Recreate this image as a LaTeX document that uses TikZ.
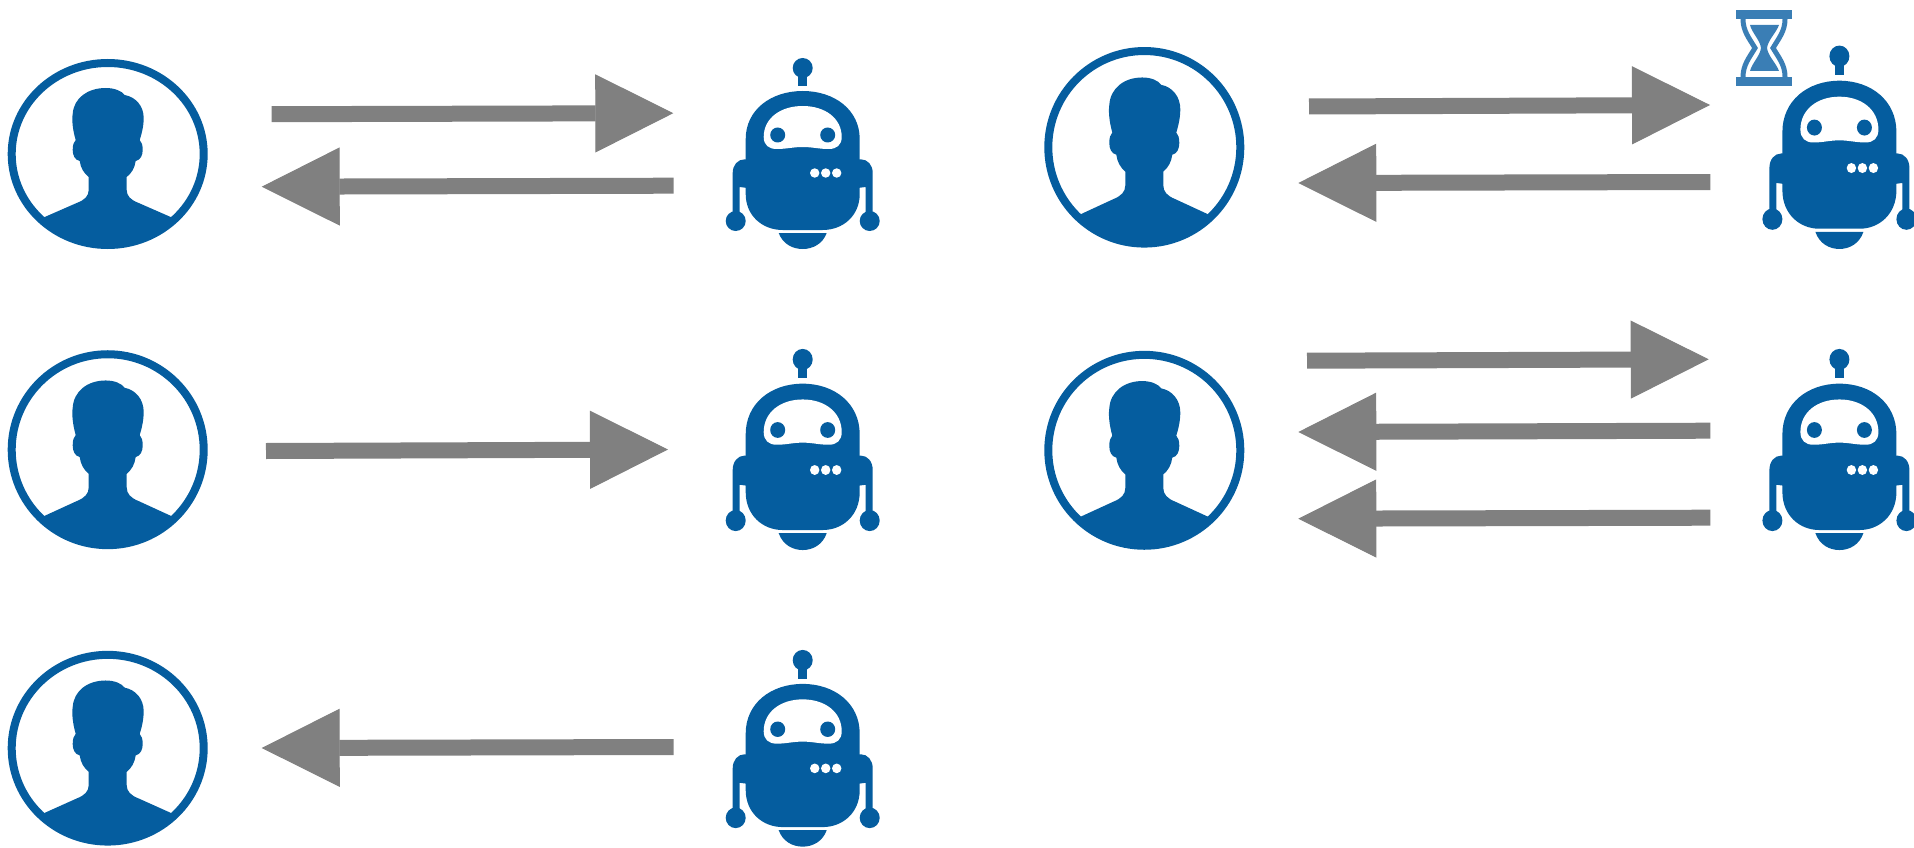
\documentclass[tikz,border=0pt]{standalone}
\usetikzlibrary{arrows.meta}
\definecolor{iconblue}{HTML}{055D9F}
\definecolor{glassblue}{HTML}{3A7EB5}
\definecolor{arrowgray}{HTML}{808080}
\tikzset{
  bigarrow/.style={draw=arrowgray,line width=16pt,-{Triangle[length=78pt,width=78pt,line width=1pt,fill=arrowgray]}},
  person/.pic={
    \begin{scope}
      \clip (0,0) ellipse [x radius=97,y radius=92];
      \fill[iconblue] (-75,72) -- (-63,63) -- (-31,49)
        .. controls (-23,46) and (-19,42) .. (-19,36) -- (-19,23)
        .. controls (-24,19) and (-27,14) .. (-28,7)
        .. controls (-33,6) and (-35,1) .. (-35,-4)
        .. controls (-35,-9) and (-34,-12) .. (-32,-14)
        .. controls (-35,-24) and (-36,-34) .. (-35,-40)
        .. controls (-34,-56) and (-20,-66) .. (-2,-66)
        .. controls (7,-66) and (14,-63) .. (17,-59)
        .. controls (28,-57) and (36,-48) .. (36,-36)
        .. controls (36,-28) and (34,-20) .. (32,-14)
        .. controls (34,-12) and (35,-9) .. (35,-4)
        .. controls (35,1) and (33,6) .. (28,7)
        .. controls (27,14) and (24,19) .. (19,23) -- (19,36)
        .. controls (19,42) and (23,46) .. (31,49)
        -- (63,63) -- (75,72) -- (75,110) -- (-75,110) -- cycle;
    \end{scope}
    \draw[iconblue,line width=8pt] (0,0) ellipse [x radius=96,y radius=91];
  },
  robot/.pic={
    \fill[iconblue] (0,-86) circle [radius=10];
    \fill[iconblue] (-4.7,-86) rectangle (4.7,-68);
    \fill[iconblue] (-57,-15) .. controls (-57,-44) and (-32,-63) .. (0,-63)
      .. controls (32,-63) and (57,-44) .. (57,-15) -- (57,40)
      .. controls (57,62) and (40,76) .. (20,76) -- (-20,76)
      .. controls (-40,76) and (-57,62) .. (-57,40) -- cycle;
    \fill[iconblue] (-55,5.3) -- (-58,5.3) .. controls (-65,5.3) and (-70,11) .. (-70,19) -- (-70,62) -- (-63,62) -- (-63,33) -- (-55,34) -- cycle;
    \fill[iconblue] (55,5.3) -- (58,5.3) .. controls (65,5.3) and (70,11) .. (70,19) -- (70,62) -- (63,62) -- (63,33) -- (55,34) -- cycle;
    \fill[iconblue] (-67,67) circle [radius=10];
    \fill[iconblue] (67,67) circle [radius=10];
    \fill[iconblue] (-24,79) -- (24,79) .. controls (20,90) and (10,95) .. (0,95) .. controls (-10,95) and (-20,90) .. (-24,79) -- cycle;
    \fill[white] (-39,-17) .. controls (-39,-36) and (-22,-48) .. (0,-48)
      .. controls (22,-48) and (39,-36) .. (39,-17)
      .. controls (39,-9) and (34,-5) .. (26,-5)
      .. controls (16,-5) and (10,-7) .. (0,-7)
      .. controls (-10,-7) and (-16,-5) .. (-26,-5)
      .. controls (-34,-5) and (-39,-9) .. (-39,-17) -- cycle;
    \fill[iconblue] (-25,-19) circle [radius=7.5];
    \fill[iconblue] (25,-19) circle [radius=7.5];
    \fill[white] (12,19) circle [radius=4.7];
    \fill[white] (23,19) circle [radius=4.7];
    \fill[white] (34,19) circle [radius=4.7];
  },
  hourglass/.pic={
    \fill[glassblue] (-28,-38) rectangle (28,-29);
    \fill[glassblue] (-28,29) rectangle (28,38);
    \draw[glassblue,line width=5pt] (-21,-29) .. controls (-21,-17) and (-15,-10) .. (-9,0) .. controls (-15,10) and (-21,17) .. (-21,29);
    \draw[glassblue,line width=5pt] (21,-29) .. controls (21,-17) and (15,-10) .. (9,0) .. controls (15,10) and (21,17) .. (21,29);
    \fill[glassblue] (-14,-23) -- (15,-23) .. controls (12,-15) and (4,-8) .. (3,0) .. controls (4,8) and (12,15) .. (15,23)
      -- (-14,23) .. controls (-12,15) and (-4,8) .. (-3,0) .. controls (-4,-8) and (-12,-15) .. (-14,-23) -- cycle;
  }
}
\begin{document}
\begin{tikzpicture}[x=1pt,y=1pt,yscale=-1]
\useasboundingbox (0,0) rectangle (1914,848);
\coordinate (u1) at (107.7,154);
\coordinate (u2) at (107.7,449.7);
\coordinate (u3) at (107.7,748.2);
\coordinate (u4) at (1144.3,147.3);
\coordinate (u5) at (1144.3,450.3);
\coordinate (r1) at (802.7,154);
\coordinate (r2) at (802.7,450);
\coordinate (r3) at (802.7,748.8);
\coordinate (r4) at (1839.4,147.8);
\coordinate (r5) at (1839.4,450);
\coordinate (hg) at (1764,48);
\pic[yscale=-1] at (u1) {person};
\pic[yscale=-1.049] at (u2) {person};
\pic[yscale=-1.026] at (u3) {person};
\pic[yscale=-1.058] at (u4) {person};
\pic[yscale=-1.049] at (u5) {person};
\pic[yscale=-1] at (r1) {robot};
\pic[yscale=-1.053] at (r2) {robot};
\pic[yscale=-1.03] at (r3) {robot};
\pic[yscale=-1.065] at (r4) {robot};
\pic[yscale=-1.053] at (r5) {robot};
\pic[yscale=-1] at (hg) {hourglass};
\coordinate (a1s) at (271.7,114.2); \coordinate (a1e) at (673.3,113.2);
\coordinate (a2s) at (673.7,185.7); \coordinate (a2e) at (261.7,186.7);
\coordinate (a3s) at (266,451); \coordinate (a3e) at (668,449.5);
\coordinate (a4s) at (673.7,747); \coordinate (a4e) at (261.7,748);
\coordinate (a5s) at (1309,106.5); \coordinate (a5e) at (1710,105);
\coordinate (a6s) at (1710.3,182); \coordinate (a6e) at (1298.3,183);
\coordinate (a7s) at (1307,360.7); \coordinate (a7e) at (1708.7,359.3);
\coordinate (a8s) at (1710.3,430.7); \coordinate (a8e) at (1298.3,432);
\coordinate (a9s) at (1710.3,517.7); \coordinate (a9e) at (1298.3,518.7);
\foreach \n in {1,...,9} \draw[bigarrow] (a\n s) -- (a\n e);
\end{tikzpicture}
\end{document}
